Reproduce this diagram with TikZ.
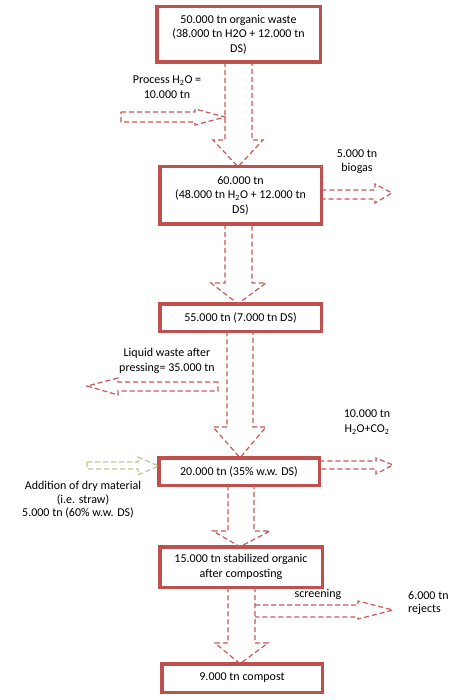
\documentclass[tikz,border=0pt]{standalone}
\usepackage{fontspec}
\setmainfont{Carlito}
\definecolor{boxred}{RGB}{192,80,77}
\definecolor{dashred}{RGB}{197,90,88}
\definecolor{dashgreen}{RGB}{190,196,140}
\begin{document}
\begin{tikzpicture}[x=1pt,y=-1pt,
  font=\fontsize{12}{14.65}\selectfont,
  box/.style={draw=boxred,line width=3.5pt,align=center,inner sep=0pt,outer sep=0pt},
  flow/.style={draw=dashred,line width=1.2pt,dash pattern=on 5pt off 3pt,line join=miter},
  greenflow/.style={flow,draw=dashgreen},
  lbl/.style={align=center,inner sep=0pt}]
\useasboundingbox (0,0) rectangle (465,700);
% boxes
\node[box,minimum width=163.5pt,minimum height=55.5pt] (b1) at (238.5,34.5)
  {50.000 tn organic waste\\(38.000 tn H2O + 12.000 tn\\DS)};
\node[box,minimum width=161.5pt,minimum height=57.5pt] (b2) at (240.5,195.5)
  {60.000 tn\\(48.000 tn H\textsubscript{2}O + 12.000 tn\\DS)};
\node[box,minimum width=161.5pt,minimum height=27.5pt] (b3) at (240.5,317.5)
  {55.000 tn (7.000 tn DS)};
\node[box,minimum width=160.5pt,minimum height=27.5pt] (b4) at (239,471.5)
  {20.000 tn (35\% w.w. DS)};
\node[box,minimum width=162.5pt,minimum height=40.5pt] (b5) at (241,567)
  {15.000 tn stabilized organic\\after composting};
\node[box,minimum width=160.5pt,minimum height=28.5pt] (b6) at (242,678)
  {9.000 tn compost};
% vertical block arrows
\draw[flow] (225,0 |- b1.south) -- (225,140) -- (213,140) -- (238,0 |- b2.north)
  -- (263,140) -- (252,140) -- (252,0 |- b1.south);
\draw[flow] (225,0 |- b2.south) -- (225,283) -- (211,283) -- (238,0 |- b3.north)
  -- (266,283) -- (252,283) -- (252,0 |- b2.south);
\draw[flow] (227,0 |- b3.south) -- (227,427) -- (213,427) -- (240,0 |- b4.north)
  -- (266,427) -- (253,427) -- (253,0 |- b3.south);
\draw[flow] (228,0 |- b4.south) -- (228,531) -- (213,531) -- (240,0 |- b5.north)
  -- (270,531) -- (254,531) -- (254,0 |- b4.south);
\draw[flow] (228,0 |- b5.south) -- (228,643) -- (215,643) -- (240,0 |- b6.north)
  -- (268,643) -- (255,643) -- (255,0 |- b5.south);
% side arrows
\coordinate (pin) at (225,117);
\draw[flow] (121,112) -- (195,112) -- (195,109) -- (pin) -- (195,125) -- (195,122) -- (121,122) -- cycle;
\draw[flow] (b2.east |- 0,190) -- (375,190) -- (375,184) -- (392,193) -- (375,203) -- (375,199) -- (b2.east |- 0,199);
\draw[flow] (218,382) -- (118,382) -- (118,378) -- (87,386) -- (118,395) -- (118,391) -- (218,391) -- cycle;
\draw[flow] (b4.east |- 0,461) -- (376,461) -- (376,458) -- (393,465) -- (376,474) -- (376,469) -- (b4.east |- 0,469);
\draw[greenflow] (87,462) -- (138,462) -- (138,457) -- (b4.west |- 0,466) -- (138,475) -- (138,469) -- (87,469) -- cycle;
\coordinate (sc) at (255,605);
\draw[flow] (sc) -- (358,605) -- (358,601) -- (393,610) -- (358,619) -- (358,617) -- (sc |- 0,617);
% labels
\node[lbl] (lp) at (167,87) {Process H\textsubscript{2}O =\\10.000 tn};
\node[lbl] (lb) at (357,161.5) {5.000 tn\\biogas};
\node[lbl] (ll) at (167,361) {Liquid waste after\\pressing= 35.000 tn};
\node[lbl] (lc) at (367,422) {10.000 tn\\H\textsubscript{2}O+CO\textsubscript{2}};
\node[lbl] (ld1) at (83,486.5) {Addition of dry material};
\node[lbl] (ld2) at (83,500) {(i.e. straw)};
\node[lbl] (ld3) at (78,513) {5.000 tn (60\% w.w. DS)};
\node[lbl] (ls) at (318,594) {screening};
\node[lbl,anchor=west] (lr1) at (408,595) {6.000 tn};
\node[lbl,anchor=west] (lr2) at (408,609) {rejects};
\end{tikzpicture}
\end{document}
